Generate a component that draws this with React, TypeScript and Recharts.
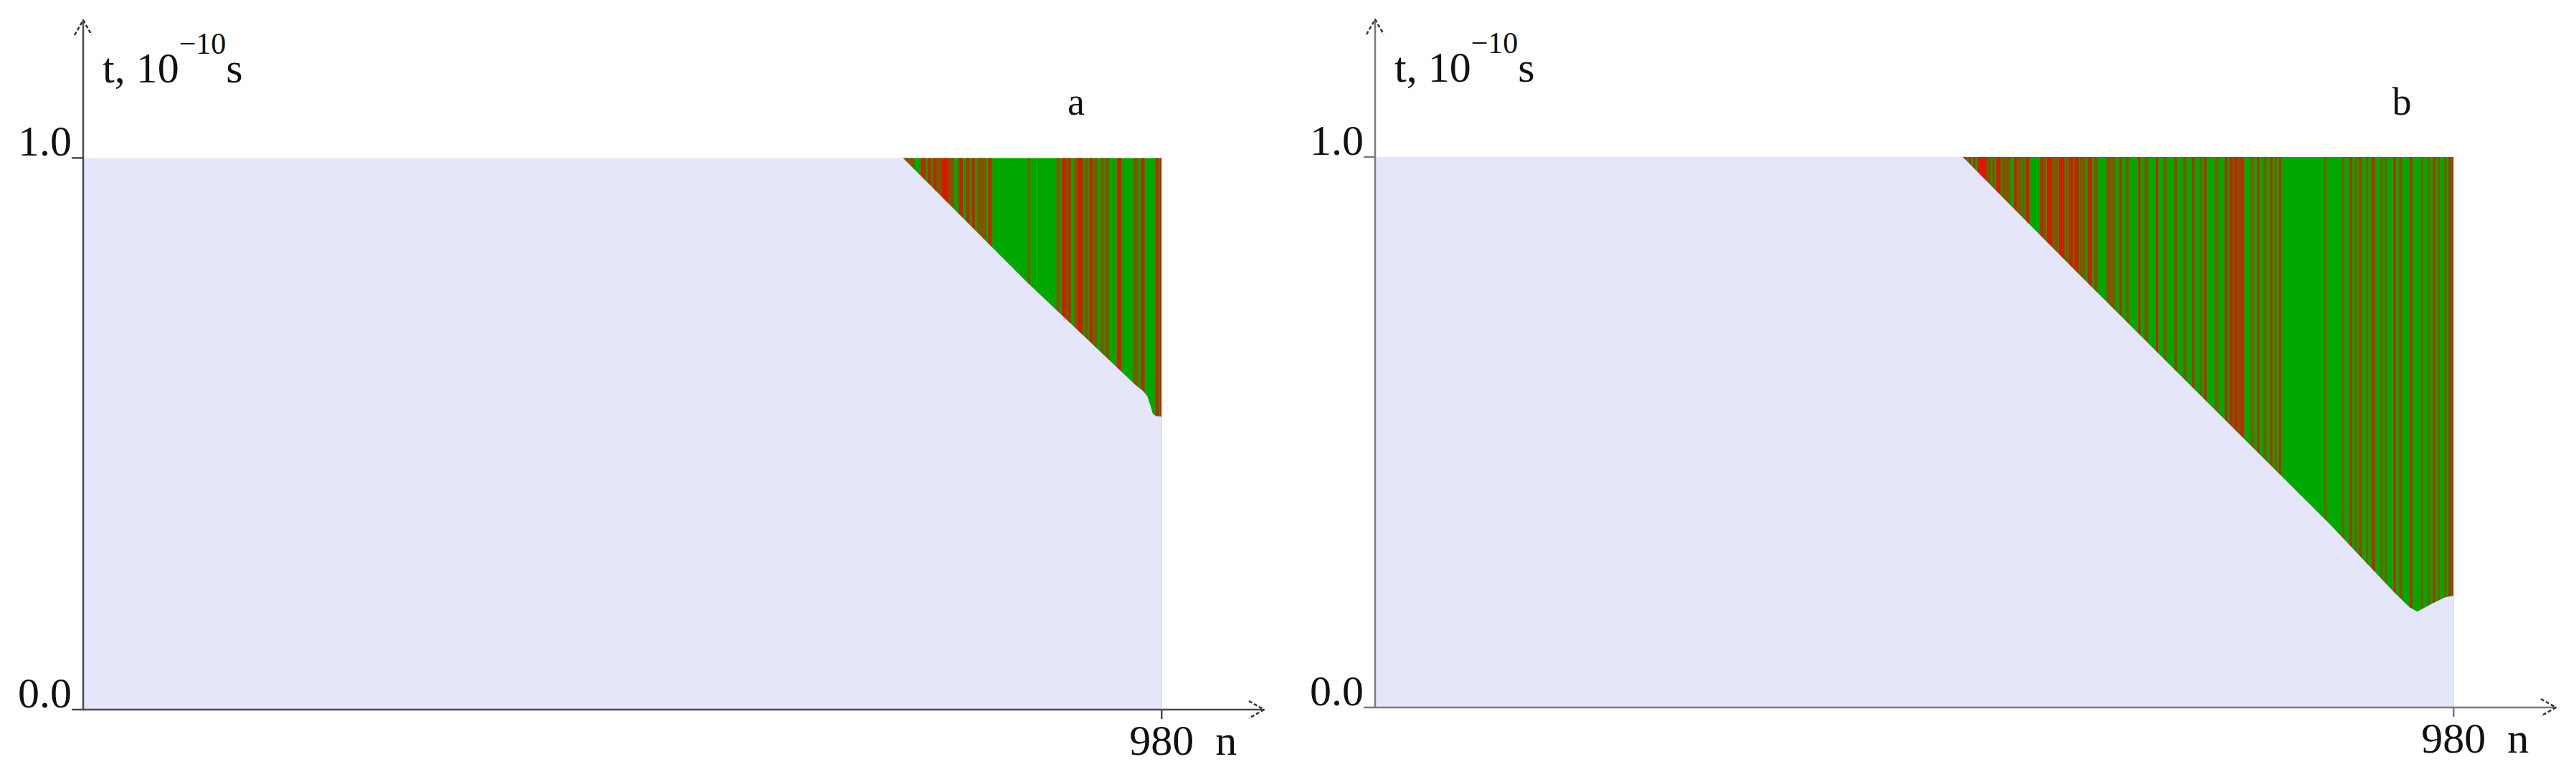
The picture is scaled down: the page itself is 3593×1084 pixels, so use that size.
import { ComposedChart, Area, Bar, XAxis, YAxis, Label } from "recharts"

const FONT = "Liberation Serif, DejaVu Serif, serif"

const yTicks = [0, 1]
const xTicks = [980]

// panel a: lower edge of the striped region (n, t)
const edgeA_n = [0, 745, 858, 956, 963, 967, 970, 972, 975, 980]
const edgeA_t = [1, 1, 0.774, 0.589, 0.578, 0.568, 0.55, 0.536, 0.532, 0.531]
const greenA = [745, 980]
const redA = [
 [762, 765], [768, 770], [773, 775], [781, 786], [796, 799], [803, 805], [808, 810],
 [823, 825], [890, 893], [895, 897], [904, 908], [915, 917], [940, 943], [962, 964],
 [975, 977], [979, 979]
]
const brownA = [
 [745, 755], [776, 780], [787, 791], [813, 820], [859, 860], [885, 887], [901, 903],
 [911, 913], [919, 921], [925, 927], [929, 932], [955, 958]
]

// panel b
const edgeB_n = [0, 534, 638, 868, 927, 940, 947, 961, 972, 980]
const edgeB_t = [1, 1, 0.79, 0.332, 0.207, 0.182, 0.174, 0.189, 0.2, 0.203]
const greenB = [534, 980]
const redB = [
 [534, 537], [540, 541], [544, 545], [548, 555], [565, 568], [581, 583], [592, 594],
 [605, 607], [611, 615], [622, 626], [631, 634], [636, 639], [648, 651], [677, 678],
 [694, 695], [710, 711], [727, 728], [743, 744], [754, 755], [773, 774], [777, 778],
 [782, 783], [787, 789], [802, 803], [814, 815], [822, 823], [886, 887], [895, 896],
 [906, 908], [926, 927], [941, 942], [962, 963], [976, 977], [979, 979]
]
const brownB = [
 [556, 559], [561, 563], [570, 577], [585, 587], [589, 590], [608, 609], [617, 620],
 [628, 629], [641, 645], [654, 656], [665, 672], [683, 685], [700, 702], [717, 719],
 [735, 737], [750, 751], [764, 766], [779, 781], [784, 786], [796, 798], [808, 810],
 [818, 819], [863, 864], [879, 880], [891, 892], [901, 902], [914, 915], [918, 919],
 [931, 933], [951, 952], [957, 958], [966, 967], [972, 973]
]

function buildRows(edgeN: number[], edgeT: number[], green: number[], red: number[][], brown: number[][]) {
 const map = new Map<number, any>()
 const row = (n: number) => {
  if (!map.has(n)) map.set(n, { n })
  return map.get(n)
 }
 edgeN.forEach((n, i) => { row(n).low = edgeT[i] })
 green.forEach(n => { row(n).top = 1 })
 red.forEach(([a, b]) => { for (let n = a; n <= b; n++) row(n).red = 1 })
 brown.forEach(([a, b]) => { for (let n = a; n <= b; n++) row(n).brown = 1 })
 return [...map.values()].sort((p, q) => p.n - q.n)
}

const dataA = buildRows(edgeA_n, edgeA_t, greenA, redA, brownA)
const dataB = buildRows(edgeB_n, edgeB_t, greenB, redB, brownB)

const YTick = (props: any) => (
 <text x={props.x} y={props.y - 3} textAnchor="end" fontSize={60} fontFamily={FONT} fill="#111">
  {Number(props.payload.value).toFixed(1)}
 </text>
)

const XTick = (props: any) => (
 <g>
  <text x={props.x} y={props.y + 50} textAnchor="middle" fontSize={60} fontFamily={FONT} fill="#111">
   {props.payload.value}
  </text>
  <text x={props.x + 75} y={props.y + 50} fontSize={60} fontFamily={FONT} fill="#111">n</text>
 </g>
)

const YLabel = (props: any) => {
 const vb = props.viewBox || {}
 const x = vb.x + vb.width + 27
 const y = vb.y + 87
 return (
  <text x={x} y={y} fontSize={60} fontFamily={FONT} fill="#111">
   t, 10
   <tspan dy={-40} fontSize={42}>−10</tspan>
   <tspan dy={40} fontSize={60}>s</tspan>
  </text>
 )
}

// stripes are drawn in a lower chart, the lavender region + axes in an identical chart on top
function Panel({ data, axisColor, margin, width }: any) {
 const xProps = { dataKey: "n", type: "number" as const, domain: [0, 1073], ticks: xTicks, height: 60 }
 const yProps = { type: "number" as const, domain: [0, 1.25], ticks: yTicks, width: 100 }
 return (
  <div style={{ position: "relative", width, height: 1084 }}>

   <div style={{ position: "absolute", left: 0, top: 0 }}>
    <ComposedChart width={width} height={1084} data={data} margin={margin}>
     <XAxis {...xProps} axisLine={false} tickLine={false} tick={false} />
     <YAxis {...yProps} axisLine={false} tickLine={false} tick={false} />
     <Area
      type="linear"
      dataKey="top"
      connectNulls
      stroke="none"
      fill="#00a800"
      fillOpacity={1}
      dot={false}
      activeDot={false}
      isAnimationActive={false}
     />
     <Bar dataKey="red" stackId="s" fill="#ff0000" barSize={2} isAnimationActive={false} />
     <Bar dataKey="brown" stackId="s" fill="#9a4600" barSize={2} isAnimationActive={false} />
    </ComposedChart>
   </div>

   <div style={{ position: "absolute", left: 0, top: 0 }}>
    <ComposedChart width={width} height={1084} data={data} margin={margin}>
     <Area
      type="linear"
      dataKey="low"
      connectNulls
      stroke="none"
      fill="#e6e6fa"
      fillOpacity={1}
      dot={false}
      activeDot={false}
      isAnimationActive={false}
     />
     <XAxis
      {...xProps}
      tickSize={13}
      tickMargin={0}
      axisLine={{ stroke: axisColor, strokeWidth: 2.5, markerEnd: "url(#arrowHead)" }}
      tickLine={{ stroke: axisColor, strokeWidth: 2.5 }}
      tick={<XTick />}
     />
     <YAxis
      {...yProps}
      tickSize={16}
      tickMargin={0}
      axisLine={{ stroke: axisColor, strokeWidth: 2.5, markerStart: "url(#arrowHead)" }}
      tickLine={{ stroke: axisColor, strokeWidth: 2.5 }}
      tick={<YTick />}
     >
      <Label content={<YLabel />} />
     </YAxis>
    </ComposedChart>
   </div>

  </div>
 )
}

export default function App() {
 return (
  <div style={{ position: "fixed", left: 0, top: 0, width: 3593, height: 1084, background: "#fff", overflow: "hidden" }}>

   <div style={{ position: "absolute", left: 0, top: 0 }}>
    <Panel
     data={dataA}
     width={1800}
     axisColor="#4a4a55"
     margin={{ top: 28, right: 37, left: 16, bottom: 34 }}
    />
   </div>

   <div style={{ position: "absolute", left: 1800, top: 0 }}>
    <Panel
     data={dataB}
     width={1793}
     axisColor="#7a7a85"
     margin={{ top: 27, right: 28, left: 18, bottom: 37 }}
    />
   </div>

   {/* arrow marker + panel letters */}
   <svg width={3593} height={1084} style={{ position: "absolute", left: 0, top: 0, pointerEvents: "none" }}>
    <defs>
     <marker
      id="arrowHead"
      viewBox="0 0 24 28"
      refX={23}
      refY={14}
      markerWidth={24}
      markerHeight={28}
      markerUnits="userSpaceOnUse"
      orient="auto-start-reverse"
     >
      <path d="M2,2 L23,14 L2,26" fill="none" stroke="#333" strokeWidth={2.5} strokeDasharray="5 3" />
     </marker>
    </defs>
    <text x={1501} y={160} textAnchor="middle" fontSize={54} fontFamily={FONT} fill="#111">a</text>
    <text x={3350} y={160} textAnchor="middle" fontSize={54} fontFamily={FONT} fill="#111">b</text>
   </svg>

  </div>
 )
}
